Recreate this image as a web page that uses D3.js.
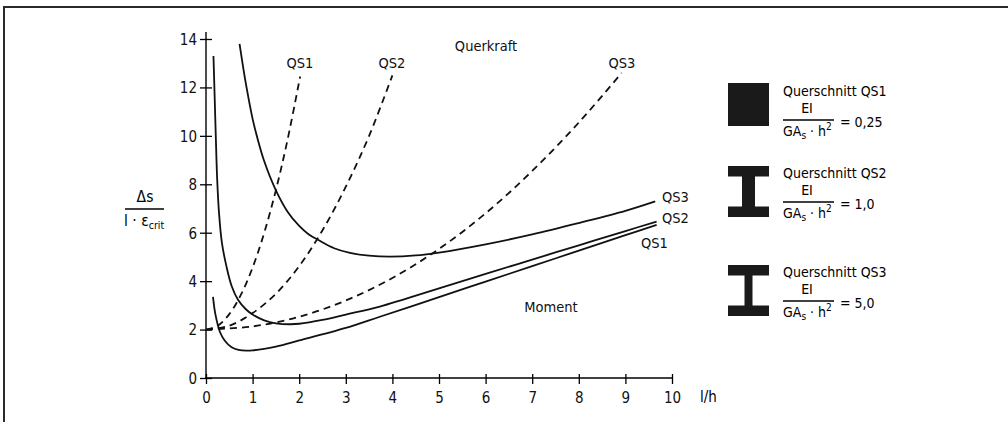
<!DOCTYPE html>
<html><head><meta charset="utf-8">
<script src="https://cdn.jsdelivr.net/npm/d3@7"></script>
<style>
body{margin:0;background:#fff;}
svg{display:block;font-family:"DejaVu Sans Condensed","DejaVu Sans",sans-serif;}
</style></head>
<body><svg id="c" width="1008" height="422"></svg>
<script>
// ---- data ----
const xTicks = [0,1,2,3,4,5,6,7,8,9,10];
const yTicks = [0,2,4,6,8,10,12,14];
const xLabel = "l/h";

// Querkraft (dashed)
const shearQS1 = [[0,2],[0.25,2.16],[0.5,2.64],[0.75,3.44],[1,4.56],[1.25,6.0],[1.5,7.76],[1.75,9.84],[2.02,12.45]];
const shearQS2 = [[0,2],[0.5,2.16],[1,2.68],[1.5,3.48],[2,4.62],[2.5,6.1],[3,7.9],[3.5,10.0],[4.0,12.5]];
const shearQS3 = [[0,2],[1,2.13],[2,2.53],[3,3.2],[4,4.13],[5,5.33],[6,6.8],[7,8.55],[8,10.55],[8.92,12.6]];

// Moment (solid)
const momentQS1 = [[0.15,3.35],[0.2,2.65],[0.3,1.9],[0.4,1.55],[0.55,1.27],[0.7,1.16],[0.87,1.13],[1.0,1.14],[1.5,1.30],[2,1.55],[3,2.07],[3.73,2.53],[5,3.34],[6,3.98],[7,4.62],[8,5.26],[9,5.90],[9.67,6.32]];
const momentQS2 = [[0.16,13.3],[0.18,12],[0.21,10],[0.24,8.2],[0.28,6.8],[0.34,5.6],[0.44,4.6],[0.55,3.8],[0.69,3.22],[0.85,2.85],[1.0,2.62],[1.25,2.38],[1.5,2.26],[1.8,2.22],[2.0,2.24],[2.5,2.4],[3,2.62],[3.73,2.95],[5,3.70],[6,4.30],[7,4.89],[8,5.48],[9,6.07],[9.67,6.46]];
const momentQS3 = [[0.72,13.8],[0.8,12.8],[0.87,12.0],[1.0,10.7],[1.09,10.0],[1.25,8.95],[1.5,7.75],[1.75,6.87],[2.0,6.28],[2.2,5.94],[2.41,5.7],[2.75,5.36],[3.09,5.17],[3.5,5.05],[3.95,5.01],[4.5,5.06],[5,5.18],[6,5.52],[7,5.93],[8,6.4],[9,6.9],[9.64,7.29]];

const legendNames = ["Querschnitt QS1","Querschnitt QS2","Querschnitt QS3"];
const legendValues = ["= 0,25","= 1,0","= 5,0"];

// ---- drawing ----
const svg = d3.select("#c");
const x = d3.scaleLinear().domain([0,10]).range([206,672]);
const y = d3.scaleLinear().domain([0,14]).range([378,39]);

// frame
svg.append("path").attr("d","M4,422 V7 H1008").attr("fill","none").attr("stroke","#2a2a2a").attr("stroke-width",2);

// axes
const gx = svg.append("g").attr("transform","translate(0,378)")
  .call(d3.axisBottom(x).tickValues(xTicks).tickSize(6).tickPadding(8).tickFormat(d3.format("d")));
gx.select(".domain").remove();
gx.append("line").attr("x1",205).attr("x2",672).attr("stroke","#000").attr("stroke-width",1.4);
gx.selectAll(".tick line").attr("y1",-4).attr("y2",6).attr("stroke-width",1.3);
gx.selectAll(".tick text").attr("font-size",15).attr("font-family","DejaVu Sans Condensed").attr("fill","#111");

const gy = svg.append("g").attr("transform","translate(206,0)")
  .call(d3.axisLeft(y).tickValues(yTicks).tickSize(6).tickPadding(3).tickFormat(d3.format("d")));
gy.select(".domain").remove();
gy.append("line").attr("y1",379).attr("y2",32).attr("stroke","#000").attr("stroke-width",1.4);
gy.selectAll(".tick line").attr("x1",-6).attr("x2",6).attr("stroke-width",1.3);
gy.selectAll(".tick text").attr("font-size",15).attr("font-family","DejaVu Sans Condensed").attr("fill","#111").attr("dy","0.36em");

svg.append("text").attr("x",700).attr("y",402).attr("font-size",15).text(xLabel);

// y label fraction
const yl = svg.append("g");
yl.append("text").attr("x",145).attr("y",202).attr("text-anchor","middle").attr("font-size",15.5).text("Δs");
yl.append("line").attr("x1",125).attr("x2",164).attr("y1",209).attr("y2",209).attr("stroke","#000").attr("stroke-width",1.5);
const yt = yl.append("text").attr("x",124).attr("y",226).attr("font-size",15.5);
yt.append("tspan").text("l · ε");
yt.append("tspan").attr("font-size",10.5).attr("dy",3).text("crit");

// curves
const line = d3.line().x(d=>x(d[0])).y(d=>y(d[1])).curve(d3.curveCatmullRom.alpha(0.5));
[shearQS1,shearQS2,shearQS3].forEach(s=>{
  svg.append("path").attr("d",line(s)).attr("fill","none").attr("stroke","#111")
    .attr("stroke-width",1.8).attr("stroke-dasharray","7,5");
});
[momentQS1,momentQS2,momentQS3].forEach(s=>{
  svg.append("path").attr("d",line(s)).attr("fill","none").attr("stroke","#111").attr("stroke-width",1.8);
});

// curve labels
const lab = (t,cx,cy,anchor)=>svg.append("text").attr("x",cx).attr("y",cy).attr("text-anchor",anchor||"middle")
  .attr("font-size",14.5).attr("fill","#111").text(t);
lab("QS1",300,68);
lab("QS2",392,68);
lab("QS3",622,68);
lab("Querkraft",486,51);
lab("QS3",662,202,"start");
lab("QS2",662,223,"start");
lab("QS1",641,248,"start");
lab("Moment",551,312);

// legend
const legTop = [96,178,277];
legTop.forEach((b,i)=>{
  const g = svg.append("g");
  g.append("text").attr("x",783).attr("y",b).attr("font-size",14).text(legendNames[i]);
  g.append("text").attr("x",807).attr("y",b+17).attr("text-anchor","middle").attr("font-size",14).text("EI");
  g.append("line").attr("x1",783).attr("x2",834).attr("y1",b+24).attr("y2",b+24).attr("stroke","#000").attr("stroke-width",1.3);
  const t = g.append("text").attr("x",783).attr("y",b+40).attr("font-size",14);
  t.append("tspan").text("GA");
  t.append("tspan").attr("font-size",10).attr("dy",3).text("s");
  t.append("tspan").attr("dy",-3).text(" · h");
  t.append("tspan").attr("font-size",10).attr("dy",-6).text("2");
  g.append("text").attr("x",840).attr("y",b+31).attr("font-size",14).text(legendValues[i]);
});
// cross-section icons
svg.append("rect").attr("x",728).attr("y",83).attr("width",41).attr("height",43).attr("fill","#1a1a1a");
function ibeam(top,h,web){
  const p = d3.path();
  const l=728,r=769,cx=748.5,f=10.5;
  p.moveTo(l,top);p.lineTo(r,top);p.lineTo(r,top+f);p.lineTo(cx+web/2,top+f);p.lineTo(cx+web/2,top+h-f);
  p.lineTo(r,top+h-f);p.lineTo(r,top+h);p.lineTo(l,top+h);p.lineTo(l,top+h-f);p.lineTo(cx-web/2,top+h-f);
  p.lineTo(cx-web/2,top+f);p.lineTo(l,top+f);p.closePath();
  svg.append("path").attr("d",p.toString()).attr("fill","#1a1a1a");
}
ibeam(166,51,13);
ibeam(265,51,8);
</script></body></html>
